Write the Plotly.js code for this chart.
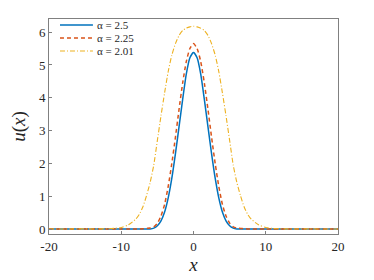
<!DOCTYPE html>
<html>
<head>
<meta charset="utf-8">
<script src="https://cdn.plot.ly/plotly-3.0.1.min.js"></script>
<style>html,body{margin:0;padding:0;background:#fff;}#chart{width:374px;height:280px;}</style>
</head>
<body>
<div id="chart"></div>
<script>
const xVals = [-20,-16,-13,-12,-11,-10,-9,-8,-7.5,-7,-6.5,-6,-5.5,-5,-4.5,-4,-3.5,-3,-2.5,-2,-1.5,-1,-0.5,0,
               0.5,1,1.5,2,2.5,3,3.5,4,4.5,5,5.5,6,6.5,7,7.5,8,9,10,11,12,13,16,20];
const uAlpha250 = [0,0,0,0,0,0,0,0,0,0,0,0.005,0.03,0.1,0.25,0.52,0.95,1.55,2.3,3.12,3.95,4.72,5.22,5.38,
                   5.22,4.72,3.95,3.12,2.3,1.55,0.95,0.52,0.25,0.1,0.03,0.005,0,0,0,0,0,0,0,0,0,0,0];
const uAlpha225 = [0,0,0,0,0,0,0,0,0.005,0.01,0.02,0.03,0.07,0.18,0.4,0.75,1.3,2.0,2.8,3.65,4.45,5.1,5.5,5.65,
                   5.5,5.1,4.45,3.65,2.8,2.0,1.3,0.75,0.4,0.18,0.07,0.03,0.02,0.01,0.005,0,0,0,0,0,0,0,0];
const uAlpha201 = [0.003,0.005,0.005,0.01,0.02,0.05,0.13,0.3,0.45,0.68,1.02,1.42,1.95,2.7,3.45,4.15,4.8,5.3,5.65,5.9,6.05,6.12,6.16,6.18,
                   6.16,6.12,6.05,5.9,5.65,5.3,4.8,4.15,3.45,2.7,1.95,1.42,1.02,0.68,0.45,0.3,0.13,0.05,0.02,0.01,0.005,0.005,0.003];
const seriesNames = ['\u03b1 = 2.5','\u03b1 = 2.25','\u03b1 = 2.01'];
const xTickVals = [-20,-10,0,10,20];
const xTickText = ['-20','-10','0','10','20'];
const yTickVals = [0,1,2,3,4,5,6];

const serif = 'Liberation Serif';
const seriesStyles = [
  {color:'#0072BD', width:1.5, dash:'solid'},
  {color:'#D95319', width:1.5, dash:'4px,3px'},
  {color:'#EDB120', width:1.1, dash:'5px,2px,1px,2px'}
];
const seriesY = [uAlpha250, uAlpha225, uAlpha201];
const traces = seriesY.map((ys, i) => ({
  x:xVals, y:ys, name:seriesNames[i], type:'scatter', mode:'lines', showlegend:false,
  line:Object.assign({shape:'spline', smoothing:0.6}, seriesStyles[i])
}));

// legend drawn in paper coordinates (decoration, not data)
const legRows = [0.972, 0.912, 0.851];
const shapes = [], annotations = [];
seriesNames.forEach((nm, i) => {
  shapes.push({type:'line', xref:'paper', yref:'paper', x0:0.038, x1:0.152, y0:legRows[i], y1:legRows[i],
               line:Object.assign({}, seriesStyles[i])});
  annotations.push({xref:'paper', yref:'paper', x:0.158, y:legRows[i], xanchor:'left', yanchor:'middle',
                    text:nm, showarrow:false, font:{family:serif, size:11, color:'#262626'}});
});

const axisCommon = {showline:true, mirror:true, linecolor:'#808080', linewidth:1,
  ticks:'inside', ticklen:3, tickcolor:'#808080', showgrid:false, zeroline:false,
  tickfont:{family:serif, size:13, color:'#262626'}};
const layout = {
  width:374, height:280,
  margin:{l:49, r:36, t:19, b:46},
  paper_bgcolor:'#fff', plot_bgcolor:'#fff',
  font:{family:serif},
  showlegend:false,
  shapes:shapes, annotations:annotations,
  xaxis:Object.assign({}, axisCommon, {range:[-20,20], tickmode:'array', tickvals:xTickVals, ticktext:xTickText,
         title:{text:'<i>x</i>', font:{family:serif, size:19, color:'#262626'}, standoff:4}}),
  yaxis:Object.assign({}, axisCommon, {range:[-0.15,6.4], tickmode:'array', tickvals:yTickVals,
         title:{text:'<i>u</i>(<i>x</i>)', font:{family:serif, size:19, color:'#262626'}, standoff:8}})
};
Plotly.newPlot('chart', traces, layout, {staticPlot:true, displayModeBar:false});
</script>
</body>
</html>
